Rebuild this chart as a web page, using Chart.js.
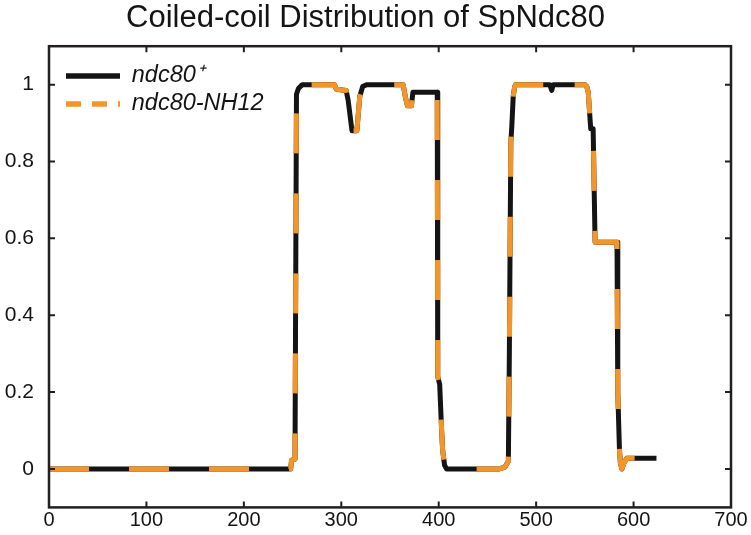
<!DOCTYPE html>
<html>
<head>
<meta charset="utf-8">
<script src="https://cdn.jsdelivr.net/npm/chart.js@4.4.1/dist/chart.umd.min.js"></script>
<style>
  body { margin: 0; background: #fff; }
  #wrap { width: 751px; height: 535px; }
</style>
</head>
<body>
<div id="wrap"><canvas id="cc-chart"></canvas></div>
<script>
// residue positions (x) and coiled-coil probability for both alleles
const residues = [0, 248, 249, 252.5, 254, 256, 260, 293, 295, 305, 307, 311, 316, 319, 322, 326,
  363.5, 366, 368, 372, 373.5, 398.5, 399, 401, 403, 404, 406, 408, 462, 468, 471.5, 472.5,
  474, 475, 476.5, 478, 479, 514, 516, 517.5, 550, 552, 553.5, 556, 558.5, 560.5, 583, 583.8,
  585.5, 586.5, 588, 590, 593, 623.5, 624];
const ndc80Wt = [0, 0, 0.023, 0.025, 0.975, 0.99, 1, 1, 0.988, 0.985, 0.96, 0.88, 0.88, 0.97, 0.995, 1,
  1, 0.965, 0.945, 0.945, 0.98, 0.98, 0.24, 0.22, 0.1, 0.05, 0.01, 0, 0, 0.005, 0.02, 0.3,
  0.85, 0.89, 0.97, 0.995, 1, 1, 0.985, 1, 1, 0.995, 0.98, 0.885, 0.885, 0.59, 0.59, 0.2,
  0.05, 0.015, 0, 0.015, 0.028, 0.028, null];
const ndc80Nh12 = [0, 0, 0.023, 0.025, 0.975, 0.99, 1, 1, 0.988, 0.985, 0.96, 0.88, 0.88, 0.97, 0.995, 1,
  1, 0.965, 0.945, 0.945, 0.98, 0.98, 0.24, 0.22, 0.1, 0.05, 0.01, 0, 0, 0.005, 0.02, 0.3,
  0.85, 0.89, 0.97, 0.995, 1, 1, 0.985, 1, 1, 0.995, 0.98, 0.885, 0.885, 0.59, 0.59, 0.2,
  0.05, 0.015, 0, 0.015, 0.028, 0.028, 0];
const xTicks = [0, 100, 200, 300, 400, 500, 600, 700];
const yTicks = [0, 0.2, 0.4, 0.6, 0.8, 1];

const FONT = 'Helvetica, "Liberation Sans", Arial, sans-serif';
const INK = '#141414';
const ORANGE = '#F4952A';

// box around the plot with inward tick marks on all four sides
const frameTicks = {
  id: 'frameTicks',
  afterDatasetsDraw(chart) {
    const {ctx, chartArea: a, scales: {x, y}} = chart;
    const len = 6;
    ctx.save();
    ctx.strokeStyle = '#231f20';
    ctx.lineWidth = 2.5;
    ctx.strokeRect(a.left, a.top, a.right - a.left, a.bottom - a.top);
    ctx.lineWidth = 2;
    ctx.beginPath();
    x.ticks.forEach(t => {
      const px = x.getPixelForValue(t.value);
      ctx.moveTo(px, a.bottom); ctx.lineTo(px, a.bottom - len);
      ctx.moveTo(px, a.top); ctx.lineTo(px, a.top + len);
    });
    y.ticks.forEach(t => {
      const py = y.getPixelForValue(t.value);
      ctx.moveTo(a.left, py); ctx.lineTo(a.left + len, py);
      ctx.moveTo(a.right, py); ctx.lineTo(a.right - len, py);
    });
    ctx.stroke();
    ctx.restore();
  }
};

// put the legend box in the upper left of the plot
const legendSpot = {
  id: 'legendSpot',
  afterLayout(chart) {
    const a = chart.chartArea, lg = chart.legend;
    lg.left = a.left + 12.5;
    lg.top = a.top + 13.5;
    lg.right = a.right;
    lg.bottom = a.bottom;
  }
};

const toPoints = ys => residues.map((r, i) => ({x: r, y: ys[i]}));

const ctx = document.getElementById('cc-chart').getContext('2d');
new Chart(ctx, {
  type: 'line',
  data: {
    datasets: [{
      label: 'ndc80\u207A',
      data: toPoints(ndc80Wt),
      borderColor: INK,
      backgroundColor: INK,
      borderWidth: 5,
      pointRadius: 0,
      borderJoinStyle: 'round',
      spanGaps: false,
      order: 1
    }, {
      label: 'ndc80-NH12',
      data: toPoints(ndc80Nh12),
      borderColor: ORANGE,
      backgroundColor: ORANGE,
      borderWidth: 5,
      borderDash: [40, 40],
      pointRadius: 0,
      borderJoinStyle: 'round',
      order: 0
    }]
  },
  options: {
    responsive: true,
    maintainAspectRatio: false,
    animation: false,
    layout: { padding: { left: 0, right: 20, top: 0, bottom: 0 } },
    plugins: {
      title: {
        display: true,
        text: 'Coiled-coil Distribution of SpNdc80',
        color: INK,
        font: { family: FONT, size: 31, weight: 'normal' },
        padding: { top: 0, bottom: 9 }
      },
      legend: {
        position: 'chartArea',
        align: 'start',
        labels: {
          color: INK,
          font: { family: FONT, size: 23.5, style: 'italic' },
          padding: 4.5,
          usePointStyle: true,
          pointStyleWidth: 54,
          generateLabels(chart) {
            const items = Chart.defaults.plugins.legend.labels.generateLabels(chart);
            items.sort((p, q) => p.datasetIndex - q.datasetIndex);
            items.forEach(it => {
              it.pointStyle = 'line';
              it.lineWidth = 5.5;
              it.lineDash = it.datasetIndex === 1 ? [15, 11] : [];
            });
            return items;
          }
        }
      },
      tooltip: { enabled: false }
    },
    scales: {
      x: {
        type: 'linear',
        min: 0,
        max: 700,
        afterBuildTicks: s => { s.ticks = xTicks.map(v => ({value: v})); },
        afterFit: s => { s.height = 26; },
        grid: { display: false, drawTicks: false },
        border: { display: false },
        ticks: {
          color: INK,
          padding: 1,
          maxRotation: 0,
          font: { family: FONT, size: 20 },
          callback: v => String(v)
        }
      },
      y: {
        type: 'linear',
        min: -0.1,
        max: 1.1,
        afterBuildTicks: s => { s.ticks = yTicks.map(v => ({value: v})); },
        afterFit: s => { s.width = 49; },
        grid: { display: false, drawTicks: false },
        border: { display: false },
        ticks: {
          color: INK,
          padding: 15,
          font: { family: FONT, size: 21 },
          callback: v => String(v)
        }
      }
    }
  },
  plugins: [frameTicks, legendSpot]
});
</script>
</body>
</html>
